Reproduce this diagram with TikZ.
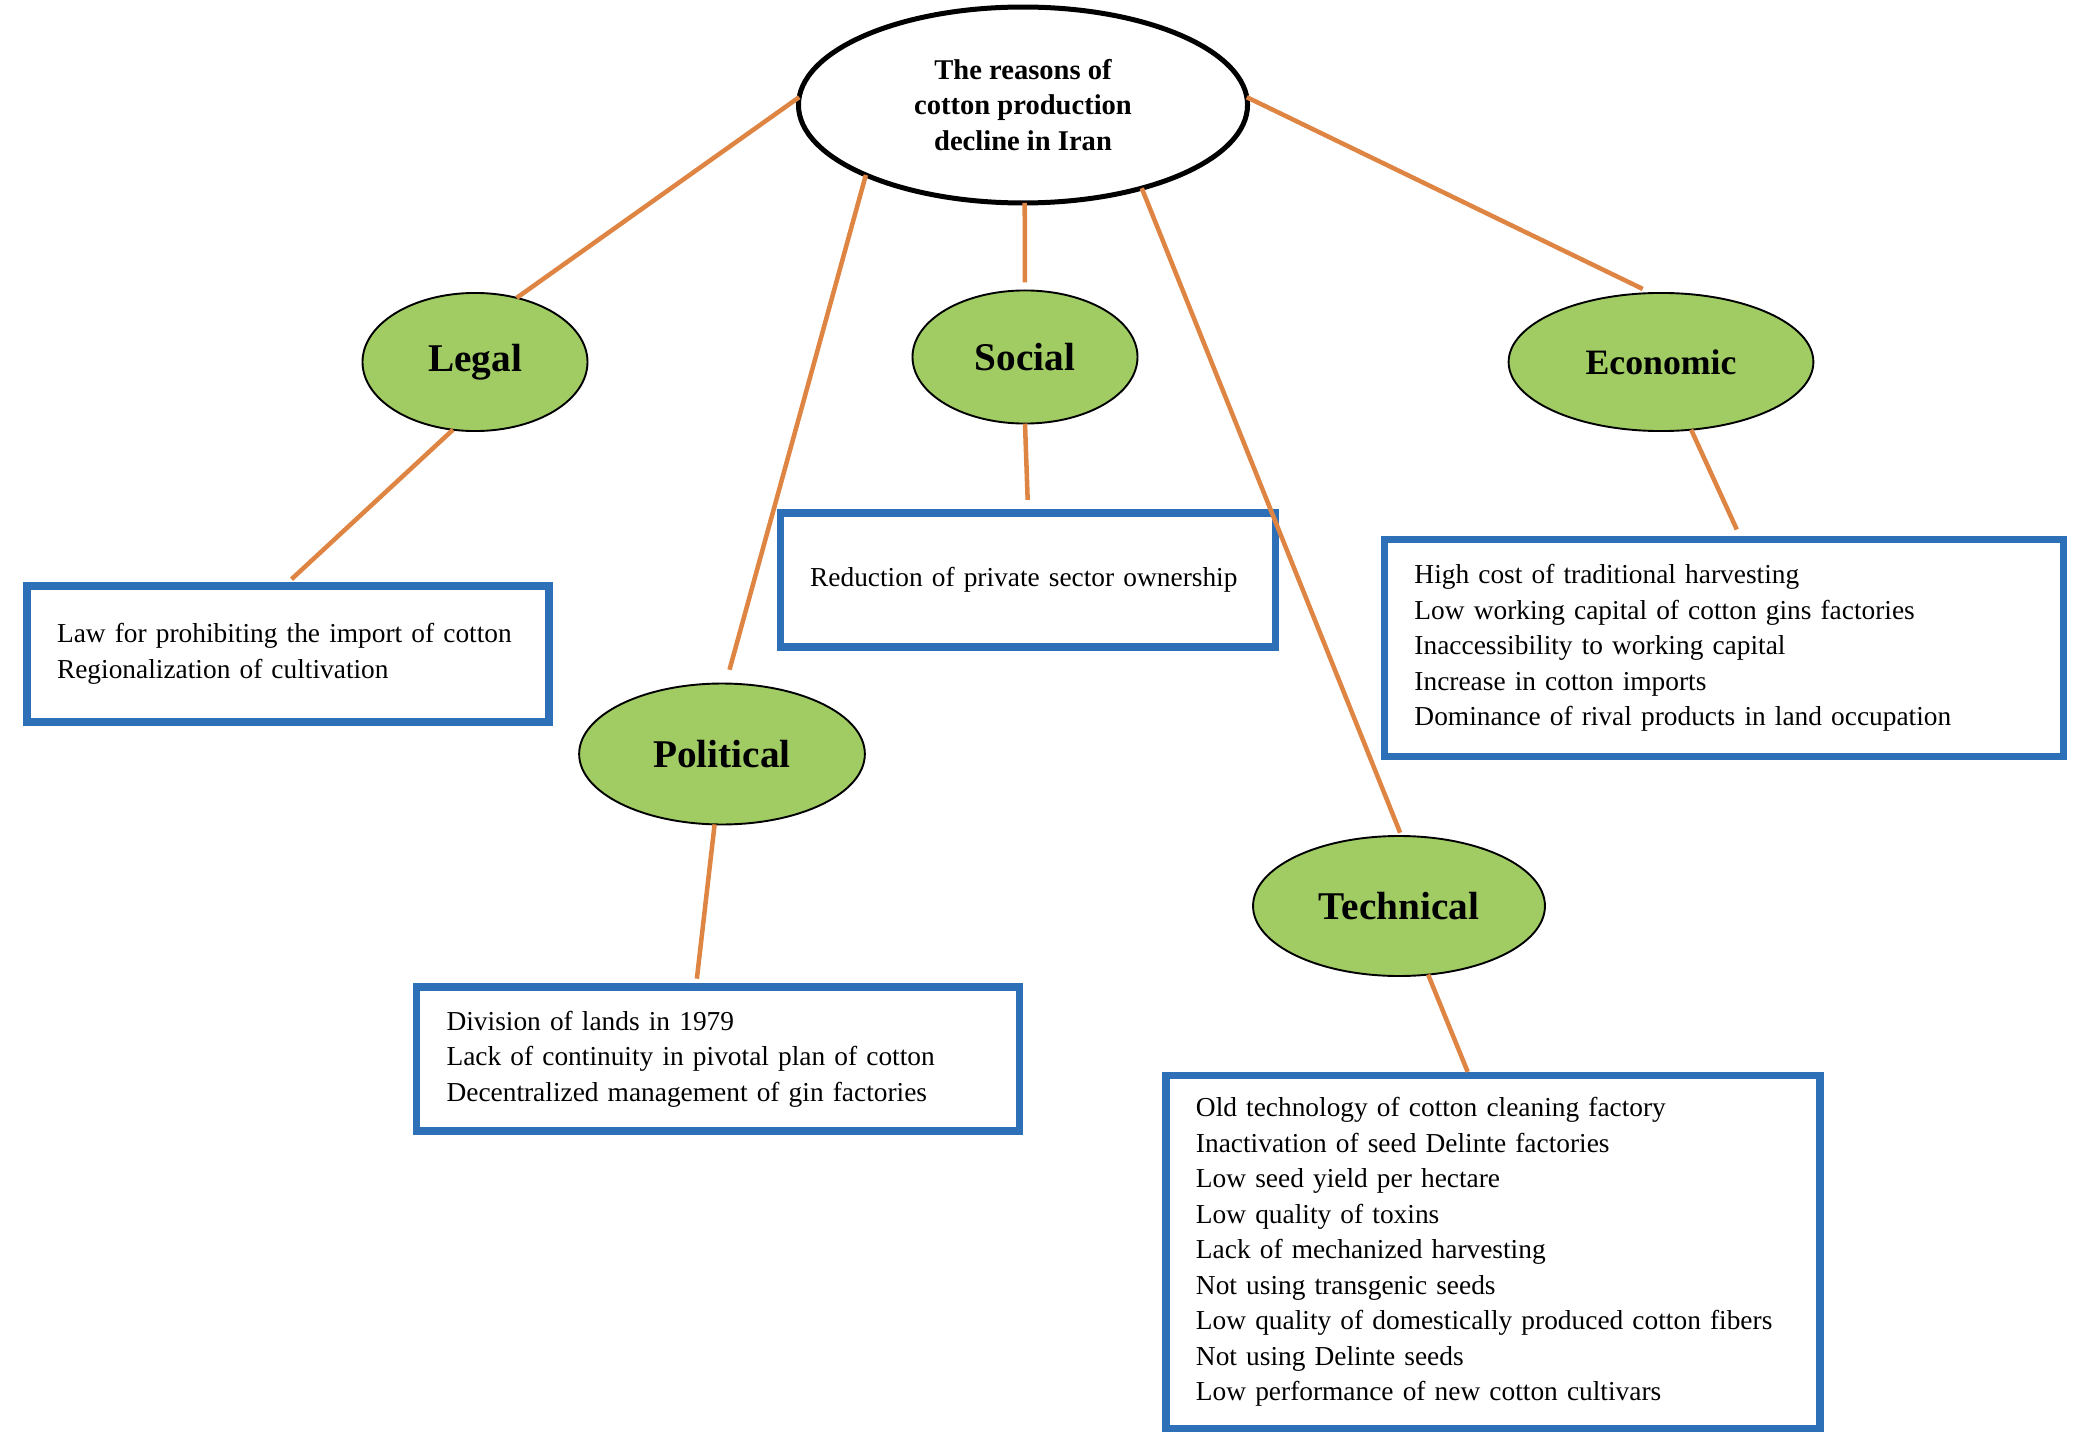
\documentclass[tikz,border=0pt]{standalone}
\usepackage{fontspec}
\setmainfont{Liberation Serif}
\usetikzlibrary{shapes.geometric}
\definecolor{leaf}{RGB}{160,204,99}
\definecolor{rust}{RGB}{223,133,68}
\definecolor{frame}{RGB}{46,112,184}
\newcommand{\titletext}{The reasons of\\ cotton production\\ decline in Iran}
\newcommand{\legaltext}{Law for prohibiting the import of cotton\\ Regionalization of cultivation}
\newcommand{\socialtext}{Reduction of private sector ownership}
\newcommand{\economictext}{High cost of traditional harvesting\\ Low working capital of cotton gins factories\\ Inaccessibility to working capital\\ Increase in cotton imports\\ Dominance of rival products in land occupation}
\newcommand{\politicaltext}{Division of lands in 1979\\ Lack of continuity in pivotal plan of cotton\\ Decentralized management of gin factories}
\newcommand{\technicaltext}{Old technology of cotton cleaning factory\\ Inactivation of seed Delinte factories\\ Low seed yield per hectare\\ Low quality of toxins\\ Lack of mechanized harvesting\\ Not using transgenic seeds\\ Low quality of domestically produced cotton fibers\\ Not using Delinte seeds\\ Low performance of new cotton cultivars}

\begin{document}
\begin{tikzpicture}[x=0.42pt,y=-0.42pt,
    any/.style={inner sep=0pt,outer sep=0pt},
    root/.style={any,ellipse,draw,line width=2.1pt,fill=white,%
                 minimum width=188.6pt,minimum height=82.3pt,align=center,%
                 font=\bfseries\fontsize{12}{14.8}\selectfont},
    cat/.style={any,ellipse,draw,line width=0.8pt,fill=leaf,minimum height=58pt,%
                font=\bfseries\fontsize{16.5}{20}\selectfont},
    reasons/.style={draw=frame,line width=3pt,inner xsep=12.6pt,inner ysep=0pt,%
                    align=left,text width=#1,font=\fontsize{11.5}{14.9}\selectfont,%
                    execute at begin node={\hyphenpenalty=10000\relax}},
    link/.style={draw=rust,line width=1.9pt}
]
\useasboundingbox (0,0) rectangle (2088,1444);

\node[root] (decline) at (1023,105) {\titletext};

\node[cat,minimum width=94.5pt] (legal) at (475,362) {Legal};
\node[cat,minimum width=94.5pt,minimum height=55.9pt] (social) at (1025,357) {Social};
\node[cat,minimum width=128pt,font=\bfseries\fontsize{15}{18}\selectfont] (economic) at (1661,362) {Economic};
\node[cat,minimum width=120pt,minimum height=59.2pt] (political) at (722,754) {Political};
\node[cat,minimum width=122.6pt,minimum height=58.8pt] (technical) at (1399,906) {Technical};

\node[reasons=194pt,minimum height=57.1pt] (legalbox) at (288,654) {\legaltext};
\node[reasons=183pt,minimum height=56.3pt] (socialbox) at (1028,580) {\socialtext};
\node[reasons=260pt,minimum height=91.1pt] (economicbox) at (1724,648) {\economictext};
\node[reasons=228pt,minimum height=60.5pt] (politicalbox) at (718,1059) {\politicaltext};
\node[reasons=249.5pt,minimum height=148.3pt] (technicalbox) at (1493,1252) {\technicaltext};

% top level
\draw[link] (decline.178) -- (legal.57);
\draw[link,shorten >=6pt] (decline.204) -- (political.87);
\draw[link,shorten >=3.4pt] (decline.271) -- (social.north);
\draw[link,shorten >=1.5pt] (decline.325) -- (technical.88);
\draw[link,shorten >=4pt] (decline.2) -- (economic.98);

% causes
\draw[link,shorten >=2pt] (legal.252) -- (legalbox.north);
\draw[link,shorten >=4pt] (social.south) -- (socialbox.north);
\draw[link,shorten >=3pt] (economic.294) -- (economicbox.82);
\draw[link,shorten >=2pt] (political.264) -- (politicalbox.106);
\draw[link] (technical.293) -- (technicalbox.98);

\end{tikzpicture}
\end{document}
